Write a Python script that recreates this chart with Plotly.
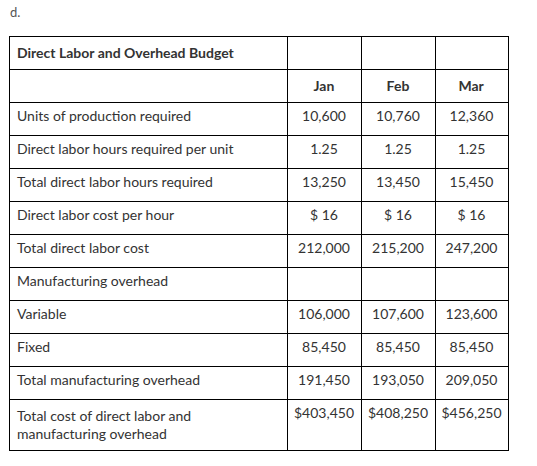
import plotly.graph_objects as go

title = "Direct Labor and Overhead Budget"
months = ["Jan", "Feb", "Mar"]
row_labels = [
    "Units of production required",
    "Direct labor hours required per unit",
    "Total direct labor hours required",
    "Direct labor cost per hour",
    "Total direct labor cost",
    "Manufacturing overhead",
    "Variable",
    "Fixed",
    "Total manufacturing overhead",
    "Total cost of direct labor and<br>manufacturing overhead",
]
units_required = [10600, 10760, 12360]
hours_per_unit = [1.25, 1.25, 1.25]
total_hours = [13250, 13450, 15450]
cost_per_hour = [16, 16, 16]
total_labor_cost = [212000, 215200, 247200]
variable_overhead = [106000, 107600, 123600]
fixed_overhead = [85450, 85450, 85450]
total_overhead = [191450, 193050, 209050]
total_cost = [403450, 408250, 456250]

rows = [
    [f"{v:,}" for v in units_required],
    [f"{v:.2f}" for v in hours_per_unit],
    [f"{v:,}" for v in total_hours],
    [f"$ {v}" for v in cost_per_hour],
    [f"{v:,}" for v in total_labor_cost],
    ["", "", ""],
    [f"{v:,}" for v in variable_overhead],
    [f"{v:,}" for v in fixed_overhead],
    [f"{v:,}" for v in total_overhead],
    [f"${v:,}" for v in total_cost],
]

cols = [row_labels] + [[r[i] for r in rows] for i in range(3)]
header_vals = [[f"<b>{title}</b>", ""]] + [["", f"<b>{m}</b>"] for m in months]

W, H = 537, 466
x0, x1, ytop = 9, 508, 36
FONT = "Lato"
TXT = "#333333"

fig = go.Figure(go.Table(
    domain=dict(x=[x0 / W, x1 / W], y=[0, 1 - ytop / H]),
    columnwidth=[278, 74, 74, 73],
    header=dict(
        values=header_vals,
        align=["left", "center", "center", "center"],
        line=dict(color="black", width=1),
        fill=dict(color="white"),
        font=dict(family=FONT, size=14, color=TXT),
        height=33,
    ),
    cells=dict(
        values=cols,
        align=["left", "center", "center", "center"],
        line=dict(color="black", width=1),
        fill=dict(color="white"),
        font=dict(family=FONT, size=14, color=TXT),
        height=33,
    ),
))

fig.add_annotation(
    text="d.", x=8 / W, y=1 - 12 / H, xref="paper", yref="paper",
    xanchor="left", yanchor="middle", showarrow=False,
    font=dict(family=FONT, size=13, color="#555555"),
)

fig.update_layout(
    width=W, height=H,
    margin=dict(l=0, r=0, t=0, b=0),
    paper_bgcolor="white",
    plot_bgcolor="white",
)

fig.write_html(
    "out.html",
    config={"displayModeBar": False},
    post_script="document.body.style.margin='0px';",
)
